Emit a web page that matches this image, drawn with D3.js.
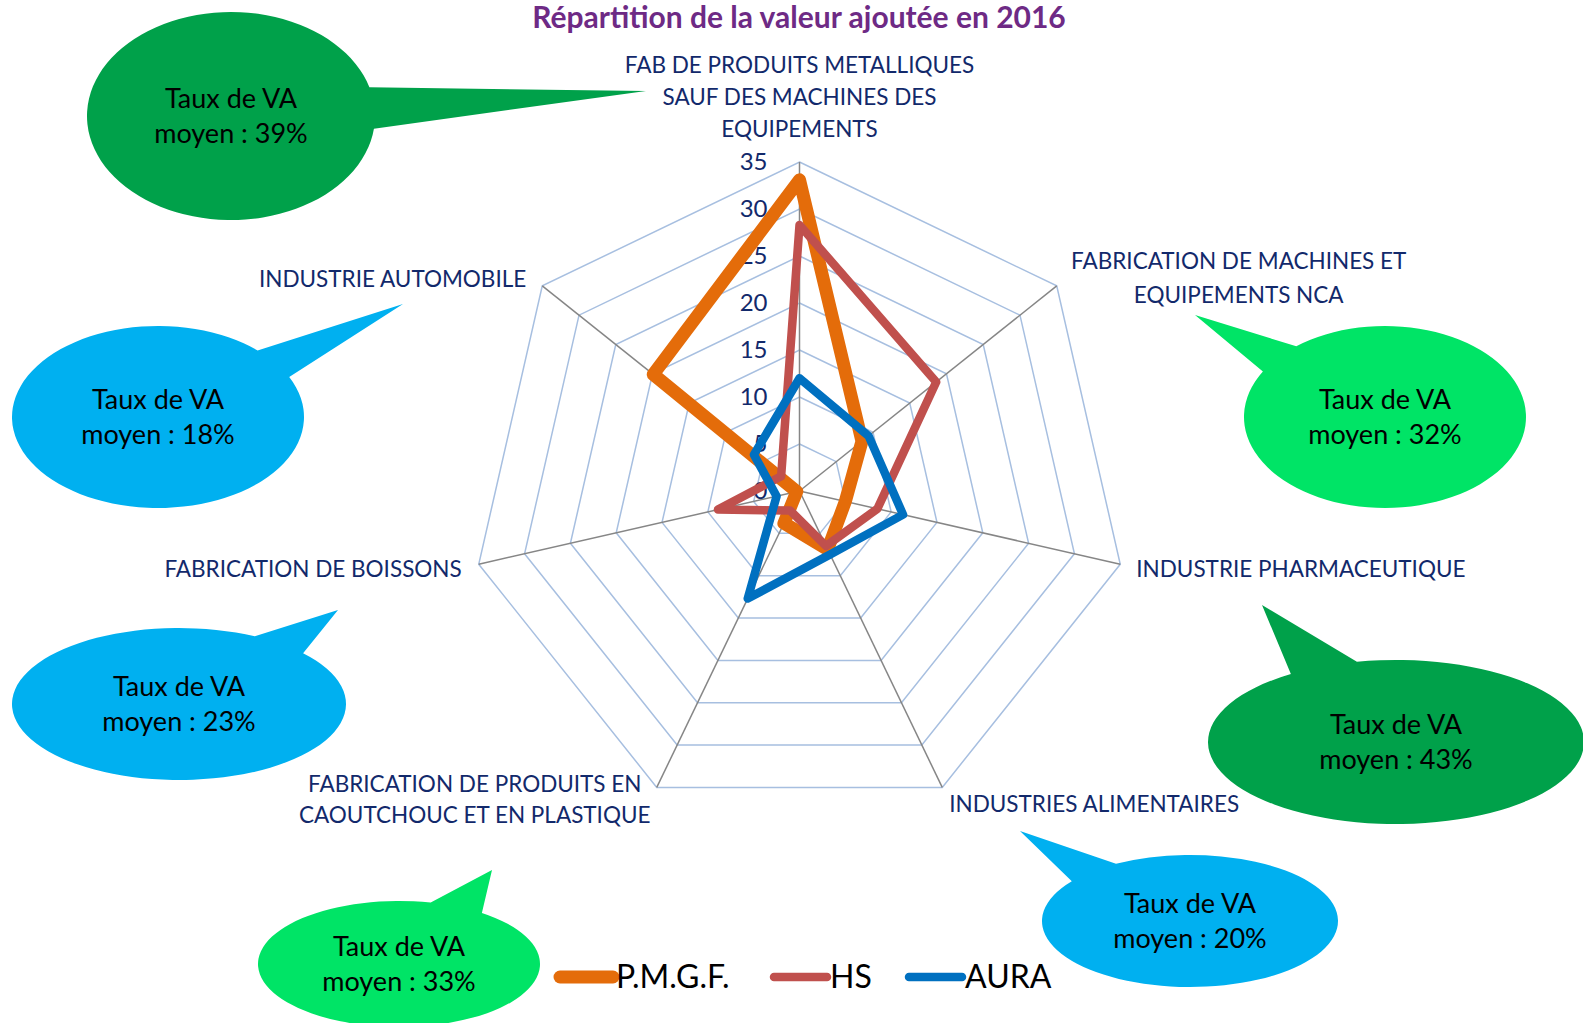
<!DOCTYPE html>
<html>
<head>
<meta charset="utf-8">
<script src="https://cdn.jsdelivr.net/npm/d3@7"></script>
<style>
  html, body { margin:0; padding:0; background:#fff; }
  svg { display:block; font-family: Lato, "Open Sans", sans-serif; }
</style>
</head>
<body>
<div id="chart"></div>
<script>
// Data ------------------------------
var title = 'Répartition de la valeur ajoutée en 2016';
var categories = [
  ['FAB DE PRODUITS METALLIQUES', 'SAUF DES MACHINES DES', 'EQUIPEMENTS'],
  ['FABRICATION DE MACHINES ET', 'EQUIPEMENTS NCA'],
  ['INDUSTRIE PHARMACEUTIQUE'],
  ['INDUSTRIES ALIMENTAIRES'],
  ['FABRICATION DE PRODUITS EN', 'CAOUTCHOUC ET EN PLASTIQUE'],
  ['FABRICATION DE BOISSONS'],
  ['INDUSTRIE AUTOMOBILE']
];
var seriesNames = ['P.M.G.F.', 'HS', 'AURA'];
var pmgf = [33.1, 8.5, 5.0, 6.9, 3.8, 0.3, 19.9];
var hs   = [28.3, 18.6, 8.5, 6.5, 2.3, 8.9, 2.5];
var aura = [12.0, 9.4, 11.3, 7.5, 12.7, 2.5, 6.2];
var tickValues = [0, 5, 10, 15, 20, 25, 30, 35];
var calloutRates = ['39%', '32%', '43%', '20%', '33%', '23%', '18%'];
// END data --------------------------

var width = 1583, height = 1023;
var cx = 799.5, cy = 491;
var navy = '#12296b';

var r = d3.scaleLinear().domain([0, 35]).range([0, 329]);
var angle = d3.scaleLinear().domain([0, categories.length]).range([0, 2 * Math.PI]);

function pt(i, v) {
  var a = angle(i);
  return [cx + r(v) * Math.sin(a), cy - r(v) * Math.cos(a)];
}

var svg = d3.select('#chart').append('svg')
  .attr('width', width).attr('height', height);

// speech bubbles (drawn first, behind everything)
var bubbleLayout = [
  {c:[231,116],  rx:144, ry:104, tip:[646,91],   t1:-16,  t2:7,    fill:'#00a14a'},
  {c:[1385,417], rx:141, ry:91,  tip:[1195,315], t1:-150, t2:-129, fill:'#00e466'},
  {c:[1396,742], rx:188, ry:82,  tip:[1262,605], t1:-124, t2:-102, fill:'#00a14a'},
  {c:[1190,921], rx:148, ry:66,  tip:[1020,831], t1:-143, t2:-120, fill:'#00b0f0'},
  {c:[399,964],  rx:141, ry:63,  tip:[492,870],  t1:-77,  t2:-54,  fill:'#00e466'},
  {c:[179,704],  rx:167, ry:76,  tip:[338,610],  t1:-63,  t2:-42,  fill:'#00b0f0'},
  {c:[158,417],  rx:146, ry:91,  tip:[403,304],  t1:-47,  t2:-26,  fill:'#00b0f0'}
];

function ep(b, deg) {
  var a = deg * Math.PI / 180;
  return [b.c[0] + b.rx * Math.cos(a), b.c[1] + b.ry * Math.sin(a)];
}

var bubbles = svg.append('g').selectAll('g')
  .data(bubbleLayout)
  .enter().append('g');

bubbles.append('path')
  .attr('fill', function(d){ return d.fill; })
  .attr('d', function(d){
    var p1 = ep(d, d.t1), p2 = ep(d, d.t2);
    return 'M' + p1 + 'L' + d.tip + 'L' + p2 +
      'A' + d.rx + ',' + d.ry + ' 0 1 1 ' + p1 + 'Z';
  });

bubbles.each(function(d, i){
  var t = d3.select(this).append('text')
    .attr('text-anchor', 'middle')
    .attr('font-size', 27)
    .attr('fill', '#000');
  t.append('tspan').attr('x', d.c[0]).attr('y', d.c[1] - 8).text('Taux de VA');
  t.append('tspan').attr('x', d.c[0]).attr('y', d.c[1] + 27).text('moyen : ' + calloutRates[i]);
});

// grid
var grid = svg.append('g');
tickValues.slice(1).forEach(function(v){
  grid.append('polygon')
    .attr('points', categories.map(function(c, i){ return pt(i, v); }).join(' '))
    .attr('fill', 'none')
    .attr('stroke', '#a7bfe0')
    .attr('stroke-width', 1.5);
});
categories.forEach(function(c, i){
  var p = pt(i, 35);
  grid.append('line')
    .attr('x1', cx).attr('y1', cy)
    .attr('x2', p[0]).attr('y2', p[1])
    .attr('stroke', '#868686')
    .attr('stroke-width', 1.5);
});

// tick labels
svg.append('g').selectAll('text')
  .data(tickValues)
  .enter().append('text')
  .attr('x', cx - 32)
  .attr('y', function(d){ return cy - r(d); })
  .attr('dy', '0.35em')
  .attr('text-anchor', 'end')
  .attr('font-size', 24)
  .attr('fill', navy)
  .text(function(d){ return d; });

// category labels, offsets from the outer vertex
var labelLayout = [
  {anchor:'middle', dx:0,    dy:[-89, -57, -25]},
  {anchor:'middle', dx:182,  dy:[-17, 17]},
  {anchor:'start',  dx:16,   dy:[13]},
  {anchor:'start',  dx:7,    dy:[25]},
  {anchor:'middle', dx:-182, dy:[5, 36]},
  {anchor:'end',    dx:-17,  dy:[13]},
  {anchor:'end',    dx:-16,  dy:[1]}
];
var labels = svg.append('g');
categories.forEach(function(lines, i){
  var p = pt(i, 35), L = labelLayout[i];
  var t = labels.append('text')
    .attr('text-anchor', L.anchor)
    .attr('font-size', 22.5)
    .attr('fill', navy);
  lines.forEach(function(s, j){
    t.append('tspan').attr('x', p[0] + L.dx).attr('y', p[1] + L.dy[j]).text(s);
  });
});

// series
var series = [
  {name:seriesNames[0], values:pmgf, color:'#e46c0a', w:13},
  {name:seriesNames[1], values:hs,   color:'#c0504d', w:8.5},
  {name:seriesNames[2], values:aura, color:'#0070c0', w:8.5}
];
var radial = d3.lineRadial()
  .angle(function(d, i){ return angle(i); })
  .radius(function(d){ return r(d); })
  .curve(d3.curveLinearClosed);

svg.append('g')
  .attr('transform', 'translate(' + cx + ',' + cy + ')')
  .selectAll('path')
  .data(series)
  .enter().append('path')
  .attr('d', function(d){ return radial(d.values); })
  .attr('fill', 'none')
  .attr('stroke', function(d){ return d.color; })
  .attr('stroke-width', function(d){ return d.w; })
  .attr('stroke-linejoin', 'round');

// title
svg.append('text')
  .attr('x', 799).attr('y', 28)
  .attr('text-anchor', 'middle')
  .attr('font-size', 30)
  .attr('font-weight', 'bold')
  .attr('fill', '#6e2a85')
  .text(title);

// legend
var legendX = [560, 774, 909];
var legend = svg.append('g').selectAll('g')
  .data(series)
  .enter().append('g')
  .attr('transform', function(d, i){ return 'translate(' + legendX[i] + ',977)'; });
legend.append('line')
  .attr('x1', 0).attr('x2', 53)
  .attr('stroke', function(d){ return d.color; })
  .attr('stroke-width', function(d){ return d.w; })
  .attr('stroke-linecap', 'round');
legend.append('text')
  .attr('x', 56).attr('y', 11)
  .attr('font-size', 32)
  .attr('fill', '#000')
  .text(function(d){ return d.name; });
</script>
</body>
</html>
